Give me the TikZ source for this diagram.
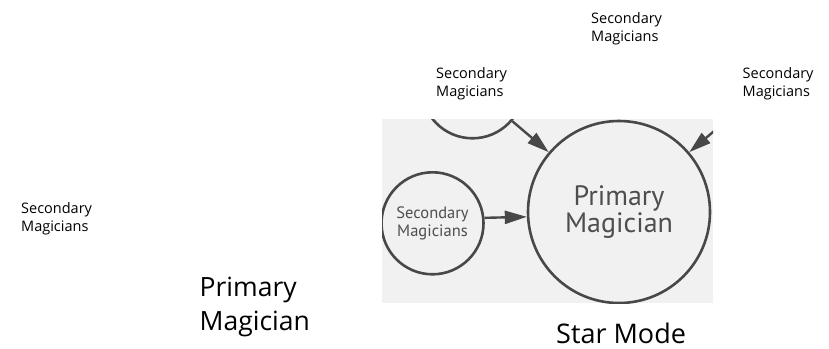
\documentclass[tikz,border=0pt]{standalone}
\usepackage{fontspec}
\usetikzlibrary{arrows.meta}
\newfontfamily\labelfont{Open Sans}
\newfontfamily\scanfont{PT Sans}
\definecolor{ink}{HTML}{484848}
\definecolor{scanbg}{HTML}{F1F1F1}
\definecolor{scantext}{HTML}{4E4E4E}
\tikzset{
  smalltag/.style={anchor=north west, inner sep=0pt, align=left, text=black,
    font=\labelfont\fontsize{14.5}{18}\selectfont},
  bigtag/.style={anchor=north west, inner sep=0pt, align=left, text=black,
    font=\labelfont\fontsize{26.5}{33.4}\selectfont},
  ring/.style={circle, draw=ink, line width=2.6pt, inner sep=0pt, align=center, text=scantext},
  arr/.style={draw=ink, line width=2.4pt, -{Triangle[length=22pt,width=13pt]}}
}
\begin{document}
\begin{tikzpicture}[x=1pt,y=-1pt]
\useasboundingbox (0,0) rectangle (829,348);
% loose labels
\node[smalltag] (lblTop) at (591,12.5) {Secondary\\Magicians};
\node[smalltag] (lblMid) at (436,67.5) {Secondary\\Magicians};
\node[smalltag] (lblRight) at (742.5,67.5) {Secondary\\Magicians};
\node[smalltag] (lblLeft) at (21,202.5) {Secondary\\Magicians};
\node[bigtag] (lblPrimary) at (199.5,277.3) {Primary\\Magician};
\node[bigtag, font=\labelfont\fontsize{27}{33}\selectfont] (caption) at (556,322.5) {Star Mode};
% scanned figure
\begin{scope}
  \clip (382,119) rectangle (713,303);
  \fill[scanbg] (382,119) rectangle (713,303);
  \node[ring, minimum size=182pt, font=\scanfont\fontsize{28}{27}\selectfont] (big) at (619,212) {Primary\\Magician};
  \node[ring, minimum size=102pt, font=\scanfont\fontsize{16.5}{18}\selectfont] (secLeft) at (432.5,223.3) {Secondary\\Magicians};
  \node[ring, minimum size=102pt] (secTopL) at (472.5,87.3) {};
  \node[ring, minimum size=102pt] (secTopR) at (765.5,87.3) {};
  \draw[arr] (secTopL) -- (big);
  \draw[arr] (secTopR) -- (big);
  \draw[arr] (secLeft.6.8) -- (big.183);
\end{scope}
\end{tikzpicture}
\end{document}
